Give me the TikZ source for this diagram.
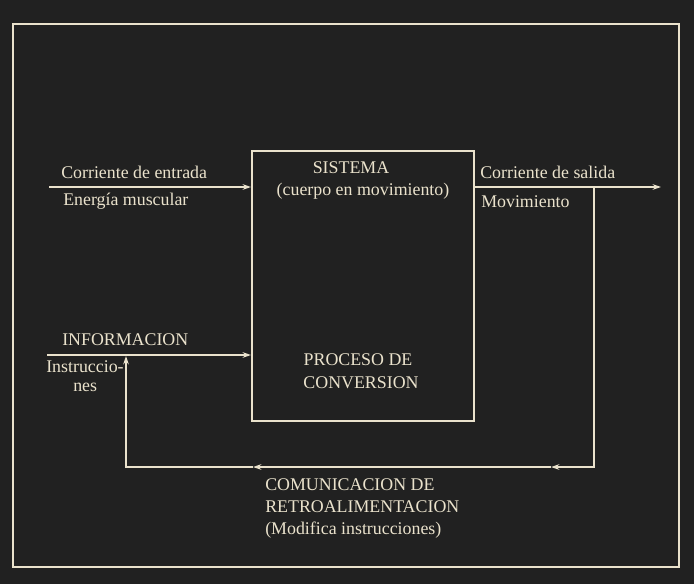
\documentclass[tikz,border=0pt]{standalone}
\usepackage{fontspec}
\setmainfont{Liberation Serif}
\usetikzlibrary{arrows.meta,positioning}
\definecolor{fondo}{HTML}{212121}
\definecolor{crema}{HTML}{EAE2CC}
\tikzstyle{caja} = [rectangle, draw=crema, line width=1.4pt, minimum width=5.55cm, minimum height=6.75cm]
\tikzstyle{linea} = [draw=crema, line width=1.4pt]
\tikzstyle{flecha} = [linea, -{Stealth[length=6pt,width=4pt]}]
\tikzstyle{texto} = [text=crema, inner sep=0pt, font=\fontsize{12.7}{15}\selectfont]

\begin{document}
\begin{tikzpicture}[x=0.025cm, y=-0.025cm]
	% Fondo y marco
	\fill[fondo] (0,0) rectangle (694,584);
	\useasboundingbox (0,0) rectangle (694,584);
	\draw[linea] (13,24) rectangle (679,567);
	% Place nodes
	\node [caja] (sistema) at (363,286) {};
	\node [texto, anchor=base] (titulo) at (351,173) {SISTEMA};
	\node [texto, anchor=base] (cuerpo) at (363,195) {(cuerpo en movimiento)};
	\node [texto, anchor=base] (proceso) at (358,365) {PROCESO DE};
	\node [texto, anchor=base] (conversion) at (361,388) {CONVERSION};
	\node [texto, anchor=base west] (corrEntrada) at (61,178) {Corriente de entrada};
	\node [texto, anchor=base west] (energia) at (63,205) {Energía muscular};
	\node [texto, anchor=base west] (informacion) at (62,345) {INFORMACION};
	\node [texto, anchor=base west] (instruccio) at (46,372) {Instruccio-};
	\node [texto, anchor=base west] (nes) at (73,391) {nes};
	\node [texto, anchor=base west] (corrSalida) at (480,178) {Corriente de salida};
	\node [texto, anchor=base west] (movimiento) at (481,207) {Movimiento};
	\node [texto, anchor=base west] (comunicacion) at (265,490) {COMUNICACION DE};
	\node [texto, anchor=base west] (retro) at (265,512) {RETROALIMENTACION};
	\node [texto, anchor=base west] (modifica) at (265,534) {(Modifica instrucciones)};
	% Coordinates
	\coordinate (entrada) at (49,187);
	\coordinate (info) at (47,355);
	\coordinate (salidaFin) at (661,187);
	\coordinate (derivacion) at (594,187);
	\coordinate (retroA) at (551,467);
	\coordinate (retroB) at (253,467);
	\coordinate (instrFin) at (126,356);
	% Draw edges
	\draw [flecha] (entrada) -- (entrada -| sistema.west);
	\draw [flecha] (info) -- (info -| sistema.west);
	\draw [flecha] (sistema.east |- salidaFin) -- (salidaFin);
	\draw [flecha] (derivacion) |- (retroA);
	\draw [flecha] (retroA) -- (retroB);
	\draw [flecha] (retroB) -| (instrFin);
\end{tikzpicture}
\end{document}
